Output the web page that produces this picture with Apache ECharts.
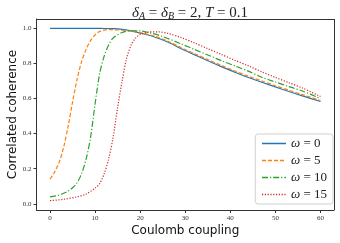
<!DOCTYPE html>
<html><head><meta charset="utf-8">
<script src="https://cdn.jsdelivr.net/npm/echarts@6/dist/echarts.min.js"></script>
<style>html,body{margin:0;padding:0;background:#fff}#c{width:340px;height:243px}</style>
</head><body><div id="c"></div>
<script>
var seriesNames = ['ω = 0', 'ω = 5', 'ω = 10', 'ω = 15'];
var xTicks = [0, 10, 20, 30, 40, 50, 60];
var yTicks = [0.0, 0.2, 0.4, 0.6, 0.8, 1.0];
var omega0 = [[0,1.0],[5,1.0],[10,1.0],[12,0.999],[14,0.998],[16,0.994],[18,0.985],[20,0.973],[23,0.952],[26,0.923],[29,0.885],[32,0.85],[35,0.815],[38,0.782],[41,0.75],[44,0.72],[47,0.693],[50,0.666],[53,0.64],[56,0.615],[60,0.583]];
var omega5 = [[0,0.14],[1,0.18],[2,0.235],[3,0.32],[4,0.44],[5,0.58],[6,0.71],[7,0.81],[8,0.88],[9,0.93],[10,0.963],[11,0.982],[12,0.99],[13,0.993],[14,0.992],[16,0.989],[18,0.983],[20,0.975],[23,0.957],[26,0.928],[29,0.891],[32,0.856],[35,0.822],[38,0.789],[41,0.757],[44,0.727],[47,0.7],[50,0.673],[53,0.647],[56,0.622],[60,0.589]];
var omega10 = [[0,0.04],[2,0.05],[4,0.072],[5,0.092],[6,0.12],[7,0.172],[8,0.255],[9,0.38],[10,0.57],[11,0.74],[12,0.84],[13,0.905],[14,0.945],[16,0.976],[18,0.986],[20,0.985],[22,0.975],[25,0.953],[29,0.912],[32,0.88],[35,0.848],[38,0.816],[41,0.786],[44,0.756],[47,0.721],[50,0.694],[53,0.668],[56,0.643],[60,0.6]];
var omega15 = [[0,0.018],[3,0.026],[6,0.04],[8,0.056],[10,0.09],[11,0.115],[12,0.17],[13,0.255],[14,0.38],[15,0.55],[16,0.7],[17,0.83],[18,0.905],[19,0.945],[20,0.965],[22,0.979],[24,0.98],[26,0.972],[29,0.948],[32,0.917],[35,0.884],[38,0.851],[41,0.818],[44,0.786],[47,0.752],[50,0.72],[53,0.69],[56,0.66],[60,0.612]];
var allData = [omega0, omega5, omega10, omega15];
var colors = ['#1f77b4','#ff7f0e','#2ca02c','#d62728'];
var dashes = ['solid', [4,2], [6,2,1.2,2], [1.2,1.6]];

var chart = echarts.init(document.getElementById('c'), null, {renderer:'canvas'});
var series = allData.map(function(d,i){
  return {name: seriesNames[i], type:'line', data:d, smooth:0.3, symbol:'none', showSymbol:false, z: 2+i,
    lineStyle:{color:colors[i], width:1.2, type:dashes[i]}, itemStyle:{color:colors[i]}};
});
var legendData = seriesNames.map(function(n,i){
  return {name:n, itemStyle:{opacity:0, color:colors[i]}, lineStyle:{color:colors[i], width:1.5, type:dashes[i]}};
});
var serif = '"Liberation Serif","DejaVu Serif",serif';
chart.setOption({
  animation:false,
  title:{
    text:'{i|δ}{s|A}{n| = }{i|δ}{s|B}{n| = 2, }{i|T}{n| = 0.1}',
    left:185, top:0, textAlign:'center',
    textStyle:{fontWeight:'normal', rich:{
      i:{fontFamily:serif, fontStyle:'italic', fontWeight:'normal', fontSize:15, color:'#222'},
      n:{fontFamily:serif, fontWeight:'normal', fontSize:15, color:'#222'},
      s:{fontFamily:serif, fontStyle:'italic', fontWeight:'normal', fontSize:10, color:'#222', verticalAlign:'bottom', padding:[6,0,0,0]}
    }}
  },
  grid:{left:36.5, right:6, top:19, bottom:33, containLabel:false, outerBoundsMode:'none', show:false},
  legend:{
    right:7, bottom:39, orient:'vertical', itemWidth:24, itemHeight:10, itemGap:4,
    backgroundColor:'rgba(255,255,255,0.85)', borderColor:'#d0d0d0', borderWidth:1, borderRadius:3,
    padding:[3,6,3,6],
    data: legendData,
    formatter:function(n){ var p=n.split(' = '); return '{w|ω}{t| = '+p[1]+'}'; },
    textStyle:{rich:{
      w:{fontFamily:serif, fontStyle:'italic', fontSize:13, color:'#222'},
      t:{fontFamily:serif, fontSize:13, color:'#222'}
    }}
  },
  xAxis:{type:'value', min:-3, max:63, interval:10,
    name:'Coulomb coupling', nameLocation:'middle', nameGap:15, nameMoveOverlap:false,
    nameTextStyle:{fontFamily:'"DejaVu Sans","Noto Sans",sans-serif', fontSize:12, color:'#111'},
    axisLine:{show:true, onZero:false, lineStyle:{color:'#333', width:1}},
    axisTick:{show:true, length:3, lineStyle:{color:'#333'}, customValues: xTicks},
    axisLabel:{fontFamily:serif, fontSize:7, color:'#333', margin:5, customValues: xTicks,
      formatter:function(v){return String(v);}},
    splitLine:{show:false}},
  yAxis:{type:'value', min:-0.035, max:1.053,
    name:'Correlated coherence', nameLocation:'middle', nameGap:18, nameMoveOverlap:false,
    nameTextStyle:{fontFamily:'"DejaVu Sans","Noto Sans",sans-serif', fontSize:12, color:'#111'},
    axisLine:{show:true, onZero:false, lineStyle:{color:'#333', width:1}},
    axisTick:{show:true, length:3, lineStyle:{color:'#333'}, customValues: yTicks},
    axisLabel:{fontFamily:serif, fontSize:7, color:'#333', margin:5, customValues: yTicks,
      formatter:function(v){return v.toFixed(1);}},
    splitLine:{show:false}},
  series: series.concat([
    {type:'line', data:[], silent:true,
     markLine:{silent:true, symbol:'none', label:{show:false}, lineStyle:{color:'#333', width:1, type:'solid'},
       data:[[{coord:[63,-0.035]},{coord:[63,1.053]}],[{coord:[-3,1.053]},{coord:[63,1.053]}]]}}
  ])
});
</script></body></html>
